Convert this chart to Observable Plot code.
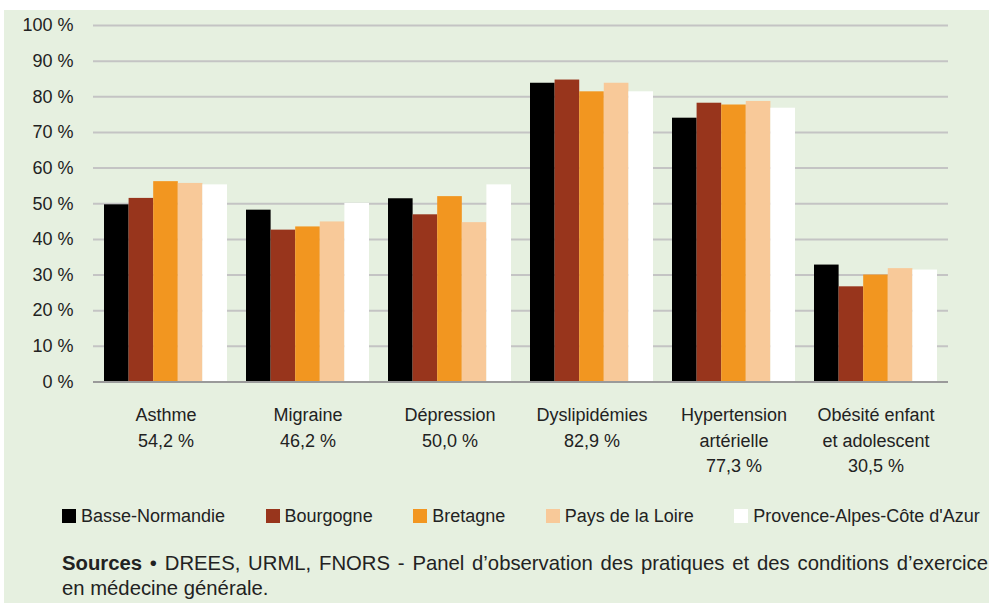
<!DOCTYPE html>
<html>
<head>
<meta charset="utf-8">
<script src="https://cdn.jsdelivr.net/npm/d3@7"></script>
<script src="https://cdn.jsdelivr.net/npm/@observablehq/plot@0.6"></script>
<style>
  html, body { margin: 0; padding: 0; background: #ffffff; }
  body { width: 989px; height: 603px; position: relative; overflow: hidden;
         font-family: "Liberation Sans", Arial, sans-serif; color: #222; }
  #bg { position: absolute; left: 4px; top: 10px; right: 0; bottom: 0; background: #e6f0e0; }
  #chart { position: absolute; left: 0; top: 0; }
  #chart svg { background: transparent !important; }
  #legend { position: absolute; left: 62px; top: 506px; display: flex; gap: 40.5px; font-size: 18px; line-height: 20px; }
  .item { display: flex; align-items: center; gap: 5px; }
  .sw { width: 14px; height: 14px; display: inline-block; }
  #source { position: absolute; left: 62px; top: 551px; font-size: 20.3px; line-height: 24.5px; width: 926px; }
  #source .l1 { text-align: justify; text-align-last: justify; white-space: normal; }
  #source .l2 { text-align: left; }
</style>
</head>
<body>
<div id="bg"></div>
<div id="chart"></div>
<div id="legend"></div>
<div id="source"><div class="l1"><b>Sources</b>&nbsp;• DREES, URML, FNORS - Panel d’observation des pratiques et des conditions d’exercice</div><div class="l2">en médecine générale.</div></div>
<script>
const categories = ["Asthme", "Migraine", "Dépression", "Dyslipidémies", "Hypertension\nartérielle", "Obésité enfant\net adolescent"];
const nationalValues = [54.2, 46.2, 50.0, 82.9, 77.3, 30.5];
const regions = ["Basse-Normandie", "Bourgogne", "Bretagne", "Pays de la Loire", "Provence-Alpes-Côte d'Azur"];
const colors = ["#000000", "#98351c", "#f29620", "#f8c999", "#ffffff"];
const basseNormandie = [49.7, 48.2, 51.4, 83.8, 74.0, 32.8];
const bourgogne      = [51.5, 42.6, 46.9, 84.7, 78.2, 26.7];
const bretagne       = [56.2, 43.5, 52.0, 81.4, 77.7, 30.0];
const paysDeLaLoire  = [55.7, 44.9, 44.7, 83.8, 78.7, 31.8];
const paca           = [55.3, 50.1, 55.3, 81.4, 76.8, 31.4];
const yTicks = [0, 10, 20, 30, 40, 50, 60, 70, 80, 90, 100];

const series = [basseNormandie, bourgogne, bretagne, paysDeLaLoire, paca];
const rows = [];
series.forEach((vals, r) => vals.forEach((v, c) => rows.push({category: categories[c], region: regions[r], value: v})));
const labels = categories.map((c, i) => ({category: c, text: c + "\n" + nationalValues[i].toFixed(1).replace(".", ",") + " %"}));

const pInner = 0.137, pOuter = 0.0685;
const width = 989, mL = 93, mR = 41;
const step = (width - mL - mR) / (categories.length - pInner + 2 * pOuter);
const bw = step * (1 - pInner);
const each = bw / regions.length;

const marks = [
  Plot.gridY(yTicks.filter(d => d > 0), {stroke: "#c4c4c4", strokeOpacity: 1, strokeWidth: 2}),
  ...regions.map((reg, i) => Plot.barY(rows.filter(d => d.region === reg), {
    x: "category", y: "value", fill: colors[i],
    insetLeft: i * each, insetRight: (regions.length - 1 - i) * each
  })),
  Plot.ruleY([0], {stroke: "#9a9a9a", strokeWidth: 2}),
  Plot.axisY({ticks: yTicks, tickSize: 0, tickPadding: 20, label: null, tickFormat: d => d + " %", fontSize: 18, fill: "#222"}),
  Plot.text(labels, {x: "category", text: "text", frameAnchor: "bottom", lineAnchor: "top", dy: 21, lineHeight: 1.42, fontSize: 18, fill: "#222"})
];

const chart = Plot.plot({
  width, height: 490,
  marginLeft: mL, marginRight: mR, marginTop: 25, marginBottom: 108.5,
  style: {background: "transparent", fontFamily: "Liberation Sans, Arial, sans-serif", fontSize: "18px", color: "#222"},
  x: {domain: categories, paddingInner: pInner, paddingOuter: pOuter, axis: null},
  y: {domain: [0, 100], axis: null},
  marks
});
document.getElementById("chart").appendChild(chart);

const legend = document.getElementById("legend");
regions.forEach((r, i) => {
  const it = document.createElement("div");
  it.className = "item";
  const sw = document.createElement("span");
  sw.className = "sw";
  sw.style.background = colors[i];
  const t = document.createElement("span");
  t.textContent = r;
  it.appendChild(sw); it.appendChild(t);
  legend.appendChild(it);
});
</script>
</body>
</html>
